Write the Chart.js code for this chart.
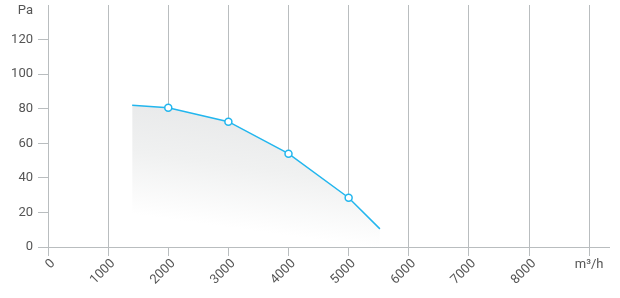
<!DOCTYPE html>
<html>
<head>
<meta charset="utf-8">
<script src="https://cdn.jsdelivr.net/npm/chart.js@4/dist/chart.umd.min.js"></script>
<style>
  html, body { margin: 0; padding: 0; background: #fff; }
  #wrap { width: 620px; height: 298px; position: relative; }
</style>
</head>
<body>
<div id="wrap"><canvas id="curveChart"></canvas></div>
<script>
// airflow (m³/h) vs pressure (Pa)
const airflow = [1400, 2000, 3000, 4000, 5000, 5520];
const pressure = [82, 80.5, 72.5, 54, 28.5, 10.5];
const markedPoints = [false, true, true, true, true, false];

const xTicks = [0, 1000, 2000, 3000, 4000, 5000, 6000, 7000, 8000, 9000];
const yTicks = [0, 20, 40, 60, 80, 100, 120];
const xUnit = "m³/h";
const yUnit = "Pa";

const gridColor = "#b9bdbf";
const textColor = "#555";
const lineColor = "#22b6ee";

// unit labels drawn at the last x tick and the top of the y axis
const unitLabels = {
    id: "unitLabels",
    afterDraw(chart) {
        const ctx = chart.ctx;
        const x = chart.scales.x;
        const area = chart.chartArea;
        ctx.save();
        ctx.fillStyle = textColor;
        ctx.font = "13px Roboto";
        ctx.textBaseline = "middle";
        ctx.textAlign = "center";
        ctx.fillText(xUnit, x.getPixelForValue(9000), 265);
        ctx.textAlign = "right";
        ctx.fillText(yUnit, 33, area.top + 6);
        ctx.restore();
    }
};

const points = airflow.map((v, i) => ({ x: v, y: pressure[i] }));

new Chart(document.getElementById("curveChart"), {
    type: "line",
    data: {
        datasets: [{
            data: points,
            borderColor: lineColor,
            borderWidth: 1.5,
            tension: 0,
            pointRadius: ctx => markedPoints[ctx.dataIndex] ? 3.5 : 0,
            pointBackgroundColor: "#fff",
            pointBorderColor: lineColor,
            pointBorderWidth: 1.5,
            fill: "origin",
            backgroundColor: ctx => {
                const area = ctx.chart.chartArea;
                if (!area) return "rgba(232,233,234,1)";
                // fades towards the lower left
                const g = ctx.chart.ctx.createLinearGradient(250, area.top + 100, 233, area.top + 223);
                g.addColorStop(0, "rgba(231,232,233,1)");
                g.addColorStop(0.5, "rgba(240,241,241,1)");
                g.addColorStop(1, "rgba(255,255,255,1)");
                return g;
            }
        }]
    },
    options: {
        responsive: true,
        maintainAspectRatio: false,
        animation: false,
        layout: { padding: { top: 5, right: 11, left: 0, bottom: 0 } },
        plugins: {
            legend: { display: false },
            tooltip: { enabled: false }
        },
        scales: {
            x: {
                type: "linear",
                min: 0,
                max: 9330,
                afterBuildTicks: axis => {
                    axis.ticks = xTicks.map(v => ({ value: v }));
                },
                afterFit: axis => {
                    axis.height = 51;
                    axis.paddingLeft = 0;
                    axis.paddingRight = 0;
                },
                border: { display: true, color: gridColor, width: 1 },
                grid: {
                    color: gridColor,
                    lineWidth: 1,
                    tickLength: 9,
                    drawTicks: true
                },
                ticks: {
                    color: textColor,
                    font: { family: "Roboto", size: 13 },
                    minRotation: 45,
                    maxRotation: 45,
                    padding: 0,
                    labelOffset: 5,
                    callback: v => v === 9000 ? "" : String(v)
                }
            },
            y: {
                min: 0,
                max: 140,
                afterBuildTicks: axis => {
                    axis.ticks = yTicks.map(v => ({ value: v }));
                },
                afterFit: axis => {
                    axis.width = 48;
                    axis.paddingTop = 0;
                    axis.paddingBottom = 0;
                },
                border: { display: false },
                grid: {
                    color: gridColor,
                    drawOnChartArea: false,
                    tickLength: 10
                },
                ticks: {
                    color: textColor,
                    font: { family: "Roboto", size: 13 },
                    padding: 5
                }
            }
        }
    },
    plugins: [unitLabels]
});
</script>
</body>
</html>
